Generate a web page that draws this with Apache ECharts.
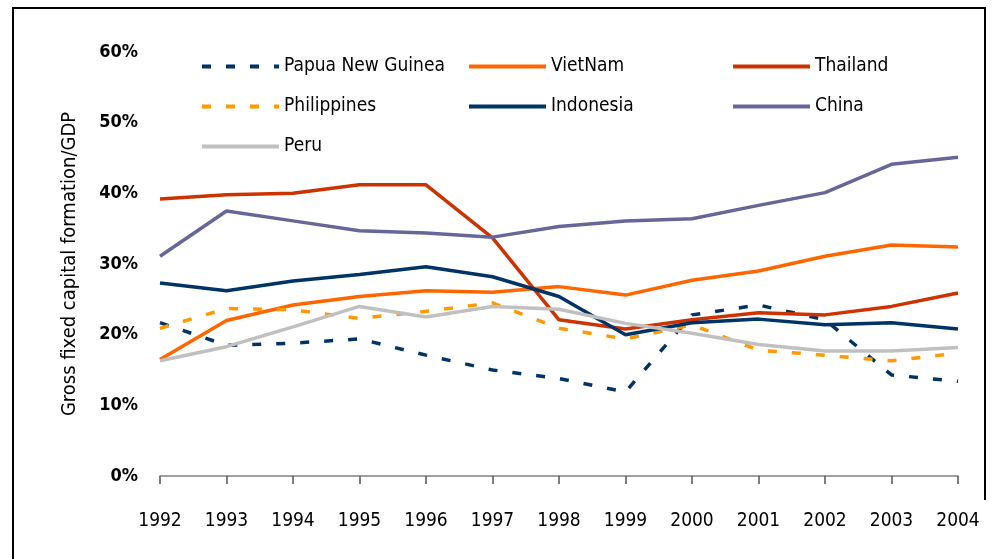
<!DOCTYPE html>
<html>
<head>
<meta charset="utf-8">
<script src="https://cdn.jsdelivr.net/npm/echarts@6/dist/echarts.min.js"></script>
<style>
  html, body { margin: 0; padding: 0; background: #fff; }
  #chart { width: 997px; height: 559px; }
</style>
</head>
<body>
<div id="chart"></div>
<script>
const years = ['1992','1993','1994','1995','1996','1997','1998','1999','2000','2001','2002','2003','2004'];

const png         = [21.7, 18.5, 18.8, 19.4, 17.1, 15.0, 13.8, 11.9, 22.8, 24.2, 22.1, 14.3, 13.4];
const vietnam     = [16.5, 22.0, 24.2, 25.4, 26.2, 26.0, 26.8, 25.6, 27.7, 29.0, 31.1, 32.7, 32.4];
const thailand    = [39.2, 39.8, 40.0, 41.2, 41.2, 33.7, 22.1, 20.8, 22.1, 23.1, 22.8, 24.0, 25.9];
const philippines = [20.9, 23.7, 23.5, 22.3, 23.3, 24.5, 20.9, 19.4, 21.4, 17.8, 17.1, 16.3, 17.4];
const indonesia   = [27.3, 26.2, 27.6, 28.5, 29.6, 28.2, 25.4, 20.0, 21.7, 22.2, 21.4, 21.7, 20.8];
const china       = [31.1, 37.5, 36.1, 34.7, 34.4, 33.8, 35.3, 36.1, 36.4, 38.3, 40.1, 44.1, 45.1];
const peru        = [16.3, 18.3, 21.1, 24.0, 22.5, 24.0, 23.6, 21.6, 20.2, 18.6, 17.7, 17.7, 18.2];

const font = '"Liberation Sans Narrow", "Arial Narrow", "DejaVu Sans Condensed", sans-serif';
const dash = [9, 15];

function line(name, data, color, dashed) {
  return {
    name,
    type: 'line',
    data,
    symbol: 'none',
    lineStyle: { color, width: 3.5, type: dashed ? dash : 'solid', cap: 'butt' },
    itemStyle: { color }
  };
}

// legend: just the line, no symbol dot
const legendBase = {
  orient: 'vertical',
  top: 52,
  itemWidth: 77,
  itemHeight: 14,
  itemGap: 21,
  selectedMode: false,
  itemStyle: { opacity: 0 },
  lineStyle: { width: 4 },
  textStyle: { fontFamily: font, fontSize: 19, color: '#000' }
};

const chart = echarts.init(document.getElementById('chart'), null, { renderer: 'canvas' });

chart.setOption({
  animation: false,
  grid: { left: 160, right: 39, top: 52, bottom: 83 },
  legend: [
    Object.assign({}, legendBase, { left: 195, data: ['Papua New Guinea', 'Philippines', 'Peru'] }),
    Object.assign({}, legendBase, { left: 462, data: ['VietNam', 'Indonesia'] }),
    Object.assign({}, legendBase, { left: 726, data: ['Thailand', 'China'] })
  ],
  xAxis: {
    type: 'category',
    data: years,
    boundaryGap: false,
    axisLine: { lineStyle: { color: '#808080', width: 1.5 } },
    axisTick: { show: true, length: 8, lineStyle: { color: '#555', width: 1.5 } },
    axisLabel: { margin: 36, color: '#000', fontFamily: font, fontSize: 19, interval: 0 }
  },
  yAxis: {
    type: 'value',
    min: 0,
    max: 60,
    interval: 10,
    name: 'Gross fixed capital formation/GDP',
    nameLocation: 'middle',
    nameGap: 80,
    nameTextStyle: { fontFamily: font, fontSize: 20, color: '#000' },
    axisLine: { show: false },
    axisTick: { show: false },
    splitLine: { show: false },
    axisLabel: { formatter: '{value}%', margin: 22, color: '#000', fontFamily: font, fontSize: 18, fontWeight: 'bold' }
  },
  graphic: [
    { type: 'polyline', silent: true, shape: { points: [[13, 559], [13, 8], [985, 8], [985, 500]] },
      style: { stroke: '#000', lineWidth: 2, fill: null } }
  ],
  series: [
    line('Papua New Guinea', png, '#003366', true),
    line('VietNam', vietnam, '#FF6600', false),
    line('Thailand', thailand, '#CC3300', false),
    line('Philippines', philippines, '#FF9900', true),
    line('Indonesia', indonesia, '#003366', false),
    line('China', china, '#666699', false),
    line('Peru', peru, '#C0C0C0', false)
  ]
});
</script>
</body>
</html>
